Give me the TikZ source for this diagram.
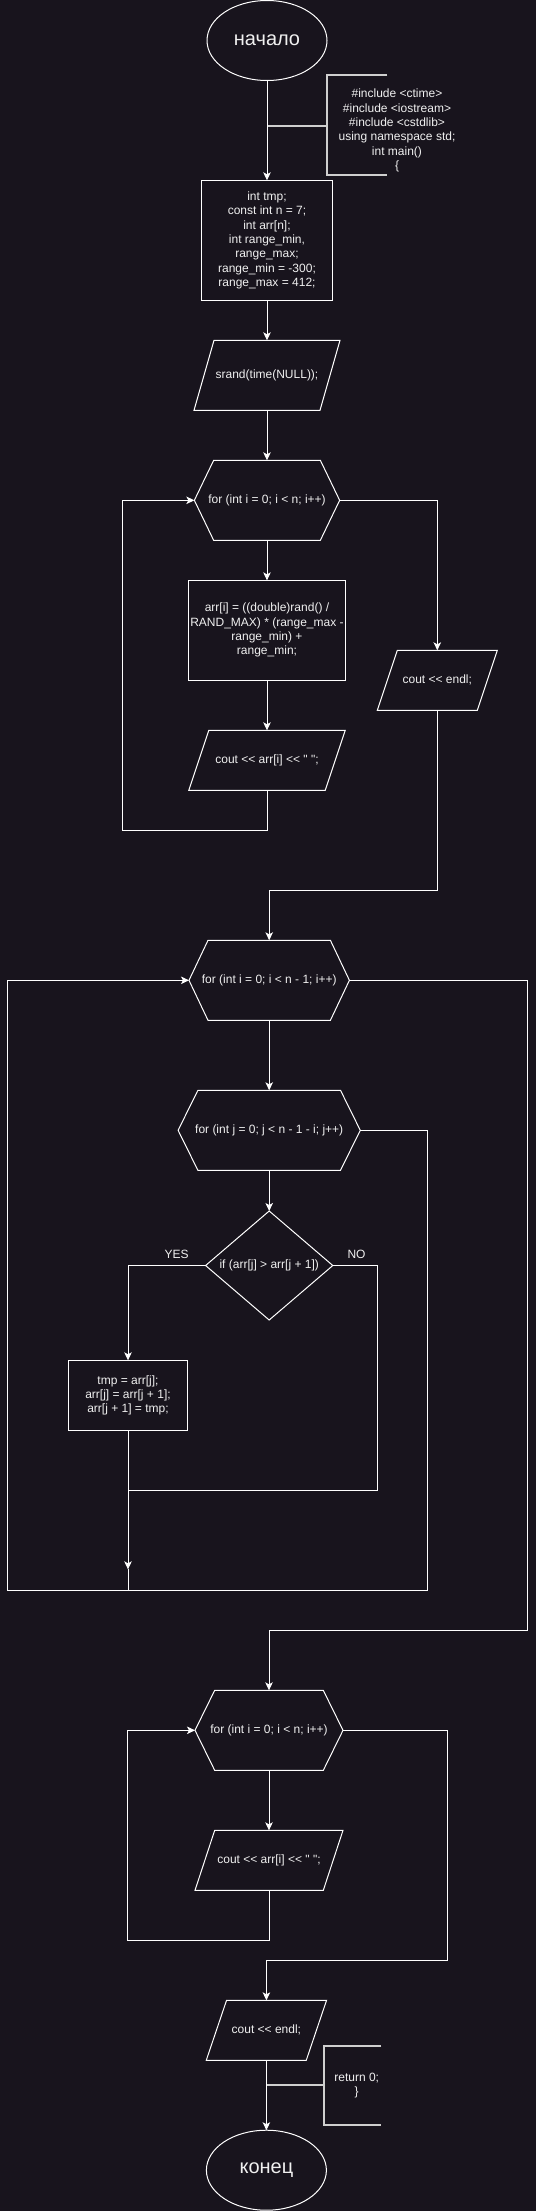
\documentclass[tikz,border=0pt]{standalone}
\usepackage{fontspec}
\newfontfamily\codefont{Liberation Sans}
\usetikzlibrary{arrows.meta,shapes.geometric}

\definecolor{bgdark}{HTML}{18141D}
\definecolor{ink}{HTML}{F0F0F0}
\definecolor{notegray}{HTML}{CFCFCF}

\tikzset{
  line/.style={draw=white,line width=1pt},
  arrow/.style={line,-{Stealth[length=8pt,width=7.5pt,inset=2pt]}},
  code/.style={text=ink,font=\codefont\fontsize{12}{14.4}\selectfont,align=center,inner sep=0pt,outer sep=0pt},
  plainbox/.style={code,rectangle},
  blockbox/.style={code,rectangle,draw=white,line width=1pt},
  term/.style={code,ellipse,draw=white,line width=1pt,font=\codefont\fontsize{20}{24}\selectfont,minimum width=120pt,minimum height=80pt},
  decide/.style={code,diamond,aspect=1.2,draw=white,line width=1pt},
  note/.style={draw=notegray,line width=1.8pt},
  tag/.style={code}
}

% outline of a loop hexagon / an i-o parallelogram round a plain node
\newcommand{\hexline}[2]{\draw[line] (#1.west) -- ([xshift=#2]#1.north west) -- ([xshift=-#2]#1.north east) -- (#1.east) -- ([xshift=-#2]#1.south east) -- ([xshift=#2]#1.south west) -- cycle;}
\newcommand{\paraline}[2]{\draw[line] ([xshift=#2]#1.north west) -- (#1.north east) -- ([xshift=-#2]#1.south east) -- (#1.south west) -- cycle;}

\begin{document}
\begin{tikzpicture}[x=1pt,y=-1pt]
  \fill[bgdark] (0,0) rectangle (536,2211);
  \useasboundingbox (0,0) rectangle (536,2211);

  % filling the array
  \node[term] (start) at (267,40.5) {начало};
  \node[tag] (incl) at (397,130.5) {\#include <ctime>\\ \#include <iostream>\\ \#include <cstdlib>\\ using namespace std;\\ int main()\\ \{};
  \node[blockbox,minimum width=130.4pt,minimum height=120pt] (vars) at (267,240.3) {int tmp;\\ const int n = 7;\\ int arr[n];\\ int range\_min,\\ range\_max;\\ range\_min = -300;\\ range\_max = 412;};
  \node[plainbox,minimum width=146pt,minimum height=70pt] (seed) at (267,375.3) {srand(time(NULL));};
  \node[plainbox,minimum width=145.3pt,minimum height=80pt] (fillloop) at (267,500.3) {for (int i = 0; i < n; i++)};
  \node[blockbox,minimum width=156.4pt,minimum height=99.7pt] (fill) at (267,630.2) {arr[i] = ((double)rand() /\\ RAND\_MAX) * (range\_max -\\ range\_min) +\\ range\_min;};
  \node[plainbox,minimum width=156.4pt,minimum height=60pt] (show1) at (267,760.3) {cout << arr[i] << " ";};
  \node[plainbox,minimum width=120pt,minimum height=60pt] (endl1) at (437.3,680.3) {cout << endl;};
  \paraline{seed}{20pt}
  \hexline{fillloop}{19.3pt}
  \paraline{show1}{20pt}
  \paraline{endl1}{20pt}

  % sorting
  \node[plainbox,minimum width=160.4pt,minimum height=80pt] (sortouter) at (269.2,980.3) {for (int i = 0; i < n - 1; i++)};
  \node[plainbox,minimum width=182.2pt,minimum height=80pt] (sortinner) at (269.2,1130.3) {for (int j = 0; j < n - 1 - i; j++)};
  \node[decide,minimum width=127.2pt,minimum height=109pt] (cmp) at (269.2,1265.5) {if (arr[j] > arr[j + 1])};
  \node[blockbox,minimum width=119.3pt,minimum height=70pt] (swap) at (128,1395.3) {tmp = arr[j];\\ arr[j] = arr[j + 1];\\ arr[j + 1] = tmp;};
  \node[tag] (yes) at (176.7,1254) {YES};
  \node[tag] (no) at (356.5,1254) {NO};
  \hexline{sortouter}{19pt}
  \hexline{sortinner}{19.8pt}

  % printing
  \node[plainbox,minimum width=148pt,minimum height=80pt] (printloop) at (269,1730.3) {for (int i = 0; i < n; i++)};
  \node[plainbox,minimum width=148pt,minimum height=60pt] (show2) at (269,1860.3) {cout << arr[i] << " ";};
  \node[plainbox,minimum width=120.3pt,minimum height=60pt] (endl2) at (266.4,2030.3) {cout << endl;};
  \node[term] (stop) at (266.4,2170.2) {конец};
  \node[tag] (ret) at (356.7,2085.5) {return 0;\\ \}};
  \hexline{printloop}{19.7pt}
  \paraline{show2}{19.7pt}
  \paraline{endl2}{20.3pt}

  % bends
  \coordinate (inclTap) at (267,125.7);
  \coordinate (retTap) at (266.4,2085.3);
  \coordinate (loopA) at (122.3,830.3);
  \coordinate (joinA) at (269.2,890.3);
  \coordinate (joinB) at (377.4,1490.3);
  \coordinate (swapEnd) at (128,1569.3);
  \coordinate (innerExit) at (427.3,1590.3);
  \coordinate (outerBack) at (7.3,1590.3);
  \coordinate (outerExit) at (527.3,1630.3);
  \coordinate (loopD) at (127.3,1940.3);
  \coordinate (printExit) at (447.5,1960.3);

  % comments
  \draw[note] (387.3,75) -- (327,75) -- (327,175) -- (387.3,175);
  \draw[note] (inclTap) -- (327,125.7);
  \draw[note] (381.3,2045.7) -- (323.7,2045.7) -- (323.7,2125) -- (381.3,2125);
  \draw[note] (retTap) -- (323.7,2085.3);

  % connectors
  \draw[arrow] (start) -- (vars);
  \draw[arrow] (vars) -- (seed);
  \draw[arrow] (seed) -- (fillloop);
  \draw[arrow] (fillloop) -- (fill);
  \draw[arrow] (fill) -- (show1);
  \draw[arrow] (show1.south) |- (loopA) |- (fillloop.west);
  \draw[arrow] (fillloop.east) -| (endl1.north);
  \draw[arrow] (endl1.south) |- (joinA) -- (sortouter.north);
  \draw[arrow] (sortouter) -- (sortinner);
  \draw[arrow] (sortinner) -- (cmp);
  \draw[arrow] (cmp.west) -| (swap.north);
  \draw[line] (cmp.east) -| (joinB) -- (joinB -| swap.south);
  \draw[arrow] (swap.south) -- (swapEnd);
  \draw[line] (swapEnd) -- (swapEnd |- innerExit);
  \draw[arrow] (sortinner.east) -| (innerExit) -- (outerBack) |- (sortouter.west);
  \draw[arrow] (sortouter.east) -| (outerExit) -| (printloop.north);
  \draw[arrow] (printloop) -- (show2);
  \draw[arrow] (show2.south) |- (loopD) |- (printloop.west);
  \draw[arrow] (printloop.east) -| (printExit) -| (endl2.north);
  \draw[arrow] (endl2) -- (stop);
\end{tikzpicture}
\end{document}
